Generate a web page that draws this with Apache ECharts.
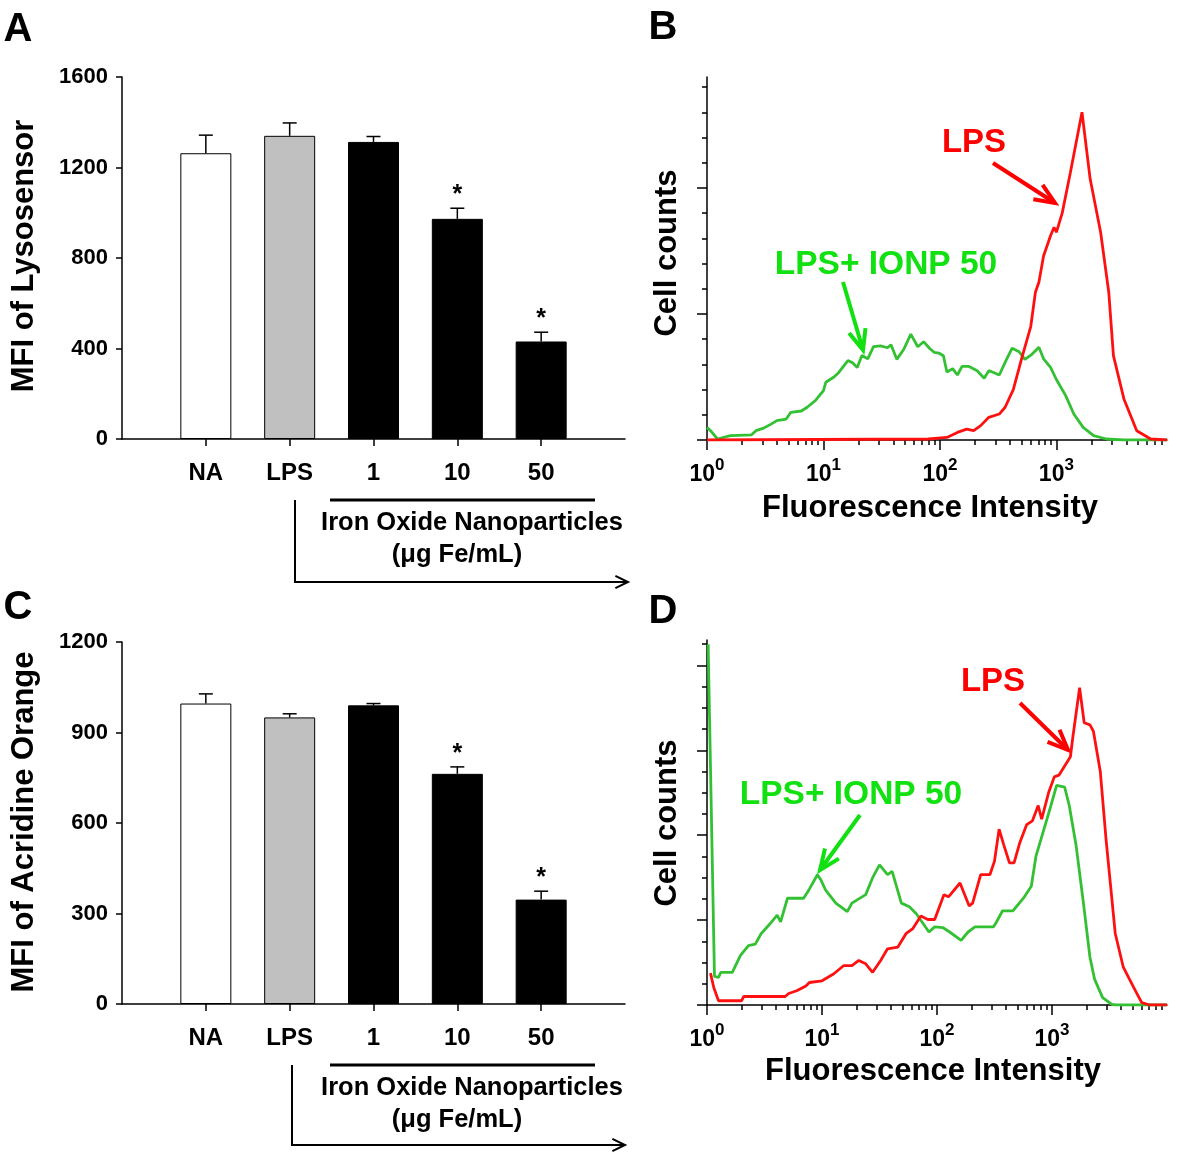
<!DOCTYPE html>
<html><head><meta charset="utf-8">
<script src="https://cdn.jsdelivr.net/npm/echarts@6/dist/echarts.min.js"></script>
<style>html,body{margin:0;padding:0;background:#fff}#c{width:1200px;height:1161px}</style>
</head><body><div id="c"></div>
<script>
// ---------- Bar panels (A, C) ----------
const barCategories = ['NA', 'LPS', '1', '10', '50'];
const lysoMean = [1263, 1340, 1313, 973, 431];
const lysoErr  = [80, 57, 24, 47, 41];
const lysoSig  = [0, 0, 0, 1, 1];
const aoMean = [996, 950, 990, 763, 346];
const aoErr  = [32, 12, 6, 23, 28];
const aoSig  = [0, 0, 0, 1, 1];
const lysoTickLabels = [0, 400, 800, 1200, 1600];
const aoTickLabels = [0, 300, 600, 900, 1200];
const barColors = ['#ffffff', '#c0c0c0', '#000000', '#000000', '#000000'];

// ---------- Histogram panels (B, D): x = log10(fluorescence intensity), y = cell counts ----------
const decadeLabels = [0, 1, 2, 3];
const bLpsLog   = [0, 1.9, 2.06, 2.15, 2.23, 2.29, 2.35, 2.42, 2.51, 2.56, 2.63, 2.7, 2.78, 2.82, 2.85, 2.89, 2.95, 2.98, 3.0, 3.05, 3.12, 3.22, 3.29, 3.38, 3.45, 3.49, 3.58, 3.69, 3.81, 3.95];
const bLpsCount = [0, 0.4, 1, 3, 4.3, 3.7, 5.7, 9, 10.3, 13, 20, 32, 45, 58.6, 62.6, 73, 81, 84.4, 82.4, 90, 106, 130, 103.6, 82.4, 58.6, 33.5, 16.3, 3.7, 0.4, 0];
const bIonpLog   = [0, 0.03, 0.09, 0.2, 0.38, 0.42, 0.48, 0.55, 0.6, 0.68, 0.72, 0.81, 0.86, 0.93, 1.0, 1.02, 1.09, 1.13, 1.21, 1.25, 1.29, 1.33, 1.38, 1.43, 1.49, 1.55, 1.58, 1.63, 1.69, 1.75, 1.81, 1.86, 1.91, 1.95, 1.99, 2.03, 2.06, 2.11, 2.15, 2.19, 2.25, 2.32, 2.38, 2.42, 2.46, 2.51, 2.56, 2.62, 2.68, 2.73, 2.79, 2.85, 2.89, 2.95, 3.0, 3.08, 3.15, 3.23, 3.32, 3.43, 3.58, 3.95];
const bIonpCount = [5, 3.7, 0.4, 1.7, 2, 3.7, 4.6, 6.3, 7.7, 8.3, 11, 11.5, 13, 15.6, 19.6, 22.9, 25, 26.7, 31.5, 30.6, 28.8, 33.5, 32.2, 37, 37.3, 36.6, 37.8, 32, 36, 42, 37, 39, 36.4, 34.8, 34.5, 33.4, 27, 28.3, 25.8, 29.2, 29.2, 27.5, 24.5, 27.5, 26.8, 25.8, 30.8, 36.4, 35, 32, 34, 36.8, 32.2, 28.8, 24, 17.6, 10.3, 5, 1.7, 0.4, 0, 0];

const dLpsLog   = [0.03, 0.06, 0.1, 0.3, 0.32, 0.68, 0.71, 0.78, 0.86, 0.89, 1.0, 1.1, 1.19, 1.26, 1.32, 1.38, 1.44, 1.51, 1.57, 1.66, 1.73, 1.79, 1.86, 1.92, 1.98, 2.06, 2.1, 2.2, 2.28, 2.31, 2.38, 2.46, 2.5, 2.54, 2.58, 2.63, 2.67, 2.72, 2.78, 2.83, 2.88, 2.91, 2.97, 3.02, 3.06, 3.16, 3.18, 3.24, 3.28, 3.33, 3.36, 3.42, 3.47, 3.55, 3.62, 3.71, 3.78, 3.85, 4.0];
const dLpsCount = [15, 8, 2, 2, 4, 4, 5.4, 6.7, 9, 10.6, 11.4, 14.6, 18.6, 18.6, 21, 19.4, 15.4, 21, 26.5, 27.3, 33.6, 36, 41.9, 40.3, 40.3, 52, 51, 57.5, 46.7, 48, 61.4, 61.4, 67.8, 82.9, 75.6, 67, 67, 76.5, 85, 86.8, 94, 87.6, 100, 107.5, 108.3, 117, 125.7, 149.5, 133, 132, 129, 110, 78, 33.7, 17.8, 8.3, 1.1, 0, 0];
const dIonpLog   = [0.01, 0.065, 0.1, 0.12, 0.22, 0.29, 0.36, 0.42, 0.47, 0.55, 0.61, 0.64, 0.7, 0.84, 0.89, 0.96, 0.99, 1.03, 1.12, 1.22, 1.26, 1.38, 1.44, 1.5, 1.57, 1.61, 1.69, 1.76, 1.82, 1.93, 1.98, 2.05, 2.11, 2.21, 2.27, 2.33, 2.49, 2.51, 2.57, 2.66, 2.7, 2.76, 2.82, 2.86, 2.92, 2.98, 3.04, 3.11, 3.15, 3.21, 3.27, 3.33, 3.37, 3.44, 3.52, 3.56, 4.0];
const dIonpCount = [170, 13.5, 13, 15.4, 15.4, 23.3, 28, 28.7, 33.6, 38.4, 42.4, 39.2, 50.3, 50.3, 54.6, 61.4, 59, 54.3, 48, 44, 48, 52, 60, 66, 61.4, 63, 48, 46.3, 43, 34.4, 36.8, 36.5, 34.4, 30.5, 34.4, 36.8, 36.8, 38.4, 44.4, 44.4, 47, 51, 56, 70, 81, 92, 103.5, 102.7, 94, 75, 49.5, 22.5, 12.2, 3.5, 0.3, 0, 0];

const bYMajor = [0, 50, 100];
const bYMinor = [10, 20, 30, 40, 60, 70, 80, 90, 110, 120, 130, 140];
const dYMajor = [0, 40, 80, 120, 160];
const dYMinor = [10, 20, 30, 50, 60, 70, 90, 100, 110, 130, 140, 150, 170];

// ---------- build ----------
const F = '"Liberation Sans", Arial, sans-serif';
const RED_LINE = '#ff1010', GREEN_LINE = '#33c133';
const RED_TXT = '#ff0000', GREEN_TXT = '#11e011';

function pairs(xs, ys) { return xs.map((x, i) => [x, ys[i]]); }
function minorDecadeTicks(maxLog) {
  const out = [];
  for (let d = 0; d < 4; d++) for (let m = 2; m <= 9; m++) {
    const v = d + Math.log10(m);
    if (v <= maxLog) out.push(+v.toFixed(4));
  }
  return out;
}
const padCats = [''].concat(barCategories, ['']);

function barData(mean) {
  return mean.map((v, i) => ({ value: [i + 1, v], itemStyle: { color: barColors[i], borderColor: '#000', borderWidth: 1 } }));
}
function errData(mean, err, sig) { return mean.map((v, i) => [i + 1, v, err[i], sig[i]]); }
function errRender(params, api) {
  const x = api.value(0), m = api.value(1), e = api.value(2), s = api.value(3);
  const p0 = api.coord([x, m]), p1 = api.coord([x, m + e]);
  const ch = [
    { type: 'line', shape: { x1: p0[0], y1: p0[1], x2: p1[0], y2: p1[1] }, style: { stroke: '#000', lineWidth: 1.5 } },
    { type: 'line', shape: { x1: p1[0] - 7, y1: p1[1], x2: p1[0] + 7, y2: p1[1] }, style: { stroke: '#000', lineWidth: 1.5 } }
  ];
  if (s) ch.push({ type: 'text', x: p1[0], y: p1[1] - 13, style: { text: '*', font: 'bold 25px ' + F, fill: '#000', align: 'center', verticalAlign: 'middle', textAlign: 'center', textVerticalAlign: 'middle' } });
  return { type: 'group', children: ch };
}

function catAxis(grid) {
  return {
    type: 'category', gridIndex: grid, data: padCats, boundaryGap: false, position: 'bottom',
    axisLine: { onZero: false, lineStyle: { color: '#000', width: 1.5 } },
    axisTick: { length: 7, lineStyle: { color: '#000', width: 1.5 }, interval: (i) => i >= 1 && i <= barCategories.length },
    axisLabel: { interval: 0, margin: 22, color: '#000', fontFamily: F, fontWeight: 'bold', fontSize: 24 }
  };
}
function barYAxis(grid, ticks) {
  return {
    type: 'value', gridIndex: grid, min: ticks[0], max: ticks[ticks.length - 1], interval: ticks[1] - ticks[0],
    splitLine: { show: false },
    axisLine: { show: true, lineStyle: { color: '#000', width: 1.5 } },
    axisTick: { show: true, length: 6, lineStyle: { color: '#000', width: 1.5 } },
    axisLabel: { margin: 14, color: '#000', fontFamily: F, fontWeight: 'bold', fontSize: 22, formatter: (v) => String(v) }
  };
}
function logXAxis(grid, maxLog, major) {
  if (major) return {
    type: 'value', gridIndex: grid, min: 0, max: maxLog, position: 'bottom', splitLine: { show: false },
    axisLine: { onZero: false, lineStyle: { color: '#000', width: 1.5 } },
    axisTick: { length: 10, lineStyle: { color: '#000', width: 1.5 }, customValues: decadeLabels },
    axisLabel: {
      customValues: decadeLabels, margin: 17, color: '#000',
      formatter: (v) => '{b|10}{s|' + Math.round(v) + '}',
      rich: {
        b: { fontFamily: F, fontWeight: 'bold', fontSize: 23, color: '#000', verticalAlign: 'bottom' },
        s: { fontFamily: F, fontWeight: 'bold', fontSize: 17, color: '#000', verticalAlign: 'top', padding: [0, 0, 12, 0] }
      }
    }
  };
  return {
    type: 'value', gridIndex: grid, min: 0, max: maxLog, position: 'bottom', splitLine: { show: false },
    axisLine: { show: false, onZero: false },
    axisTick: { length: 5, lineStyle: { color: '#000', width: 1.5 }, customValues: minorDecadeTicks(maxLog) },
    axisLabel: { show: false }
  };
}
function countYAxis(grid, maxC, vals, major) {
  return {
    type: 'value', gridIndex: grid, min: 0, max: maxC, position: 'left', splitLine: { show: false },
    axisLine: { show: major, onZero: false, lineStyle: { color: '#000', width: 1.5 } },
    axisTick: { show: true, length: major ? 10 : 5, lineStyle: { color: '#000', width: 1.5 }, customValues: vals },
    axisLabel: { show: false }
  };
}

function txt(x, y, text, font, fill, rot) {
  return { type: 'text', x: x, y: y, rotation: rot || 0, style: { text: text, font: font, fill: fill || '#000', align: 'center', verticalAlign: 'middle', textAlign: 'center', textVerticalAlign: 'middle' } };
}
function arrow(x1, y1, x2, y2, color, w, hl, ang) {
  const a = Math.atan2(y2 - y1, x2 - x1);
  const p1 = [x2 - hl * Math.cos(a - ang), y2 - hl * Math.sin(a - ang)];
  const p2 = [x2 - hl * Math.cos(a + ang), y2 - hl * Math.sin(a + ang)];
  return [
    { type: 'line', shape: { x1: x1, y1: y1, x2: x2, y2: y2 }, style: { stroke: color, lineWidth: w } },
    { type: 'polyline', shape: { points: [p1, [x2, y2], p2] }, style: { stroke: color, lineWidth: w, fill: null } }
  ];
}
function bracket(lineY, vx, bottomY, endX, t1y, t2y) {
  return [
    { type: 'line', shape: { x1: 330, y1: lineY, x2: 595, y2: lineY }, style: { stroke: '#000', lineWidth: 3 } },
    txt(472, t1y, 'Iron Oxide Nanoparticles', 'bold 25.5px ' + F),
    txt(457, t2y, '(\u03bcg Fe/mL)', 'bold 25.5px ' + F),
    { type: 'polyline', shape: { points: [[vx, lineY], [vx, bottomY], [endX, bottomY]] }, style: { stroke: '#000', lineWidth: 2, fill: null } }
  ].concat(arrow(endX - 20, bottomY, endX, bottomY, '#000', 2, 14, 0.45));
}

const graphics = [].concat(
  [txt(18, 30, 'A', 'bold 40px ' + F), txt(663, 28, 'B', 'bold 40px ' + F),
   txt(18, 608, 'C', 'bold 40px ' + F), txt(663, 612, 'D', 'bold 40px ' + F),
   txt(24, 256, 'MFI of Lysosensor', 'bold 31px ' + F, '#000', Math.PI / 2),
   txt(24, 822, 'MFI of Acridine Orange', 'bold 31px ' + F, '#000', Math.PI / 2),
   txt(667, 253, 'Cell counts', 'bold 31px ' + F, '#000', Math.PI / 2),
   txt(667, 823, 'Cell counts', 'bold 31px ' + F, '#000', Math.PI / 2),
   txt(930, 508, 'Fluorescence Intensity', 'bold 31px ' + F),
   txt(933, 1071, 'Fluorescence Intensity', 'bold 31px ' + F),
   txt(974, 143, 'LPS', 'bold 33px ' + F, RED_TXT),
   txt(886, 265, 'LPS+ IONP 50', 'bold 33.5px ' + F, GREEN_TXT),
   txt(993, 682, 'LPS', 'bold 33px ' + F, RED_TXT),
   txt(851, 795, 'LPS+ IONP 50', 'bold 33.5px ' + F, GREEN_TXT)],
  arrow(993, 163, 1055, 203, RED_TXT, 4, 22, 0.4),
  arrow(843, 282, 863, 350, GREEN_TXT, 4, 22, 0.4),
  arrow(1020, 703, 1068, 750, RED_TXT, 4, 22, 0.4),
  arrow(860, 815, 820, 870, GREEN_TXT, 4, 22, 0.4),
  bracket(500, 295, 582, 628, 523, 555),
  bracket(1065, 292, 1145, 625, 1088, 1120)
);

const chart = echarts.init(document.getElementById('c'), null, { renderer: 'canvas' });
chart.setOption({
  animation: false,
  backgroundColor: '#fff',
  grid: [
    { left: 122, top: 77, width: 503, height: 362 },
    { left: 707, top: 77, width: 460, height: 363 },
    { left: 122, top: 642, width: 503, height: 362 },
    { left: 707, top: 640, width: 460, height: 365 }
  ],
  xAxis: [catAxis(0), logXAxis(1, 3.95, true), logXAxis(1, 3.95, false), catAxis(2), logXAxis(3, 4.0, true), logXAxis(3, 4.0, false)],
  yAxis: [barYAxis(0, lysoTickLabels), countYAxis(1, 144, bYMajor, true), countYAxis(1, 144, bYMinor, false),
          barYAxis(2, aoTickLabels), countYAxis(3, 172, dYMajor, true), countYAxis(3, 172, dYMinor, false)],
  series: [
    { type: 'bar', xAxisIndex: 0, yAxisIndex: 0, barWidth: 51, data: barData(lysoMean), z: 2 },
    { type: 'custom', xAxisIndex: 0, yAxisIndex: 0, renderItem: errRender, data: errData(lysoMean, lysoErr, lysoSig), z: 3 },
    { type: 'bar', xAxisIndex: 3, yAxisIndex: 3, barWidth: 51, data: barData(aoMean), z: 2 },
    { type: 'custom', xAxisIndex: 3, yAxisIndex: 3, renderItem: errRender, data: errData(aoMean, aoErr, aoSig), z: 3 },
    { type: 'line', xAxisIndex: 1, yAxisIndex: 1, data: pairs(bIonpLog, bIonpCount), showSymbol: false, symbol: 'none', lineStyle: { color: GREEN_LINE, width: 2.8 }, itemStyle: { color: GREEN_LINE } },
    { type: 'line', xAxisIndex: 1, yAxisIndex: 1, data: pairs(bLpsLog, bLpsCount), showSymbol: false, symbol: 'none', lineStyle: { color: RED_LINE, width: 2.8 }, itemStyle: { color: RED_LINE } },
    { type: 'line', xAxisIndex: 4, yAxisIndex: 4, data: pairs(dIonpLog, dIonpCount), showSymbol: false, symbol: 'none', lineStyle: { color: GREEN_LINE, width: 2.8 }, itemStyle: { color: GREEN_LINE } },
    { type: 'line', xAxisIndex: 4, yAxisIndex: 4, data: pairs(dLpsLog, dLpsCount), showSymbol: false, symbol: 'none', lineStyle: { color: RED_LINE, width: 2.8 }, itemStyle: { color: RED_LINE } }
  ],
  graphic: graphics
});
</script>
</body></html>
